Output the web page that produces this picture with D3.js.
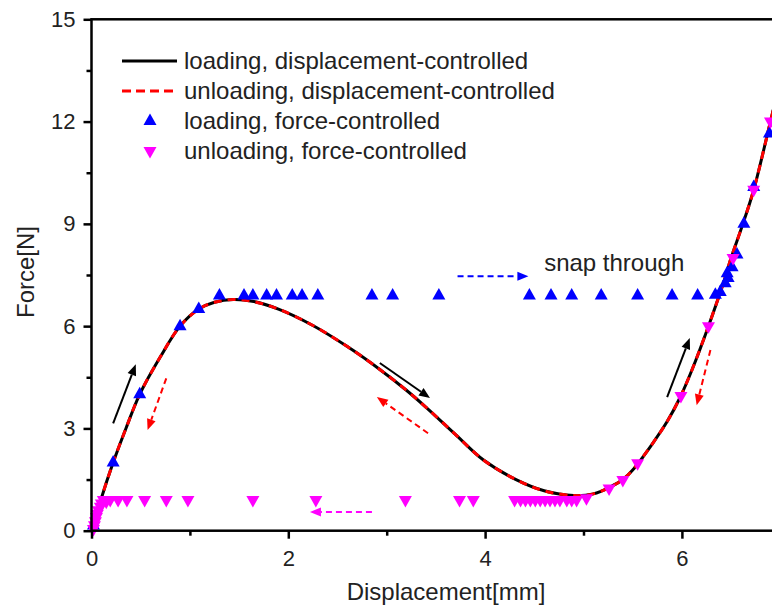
<!DOCTYPE html>
<html>
<head>
<meta charset="utf-8">
<script src="https://cdn.jsdelivr.net/npm/d3@7"></script>
<style>
  html, body { margin: 0; padding: 0; background: #fff; overflow: hidden; }
  svg { display: block; font-family: "Liberation Sans", Arial, sans-serif; }
</style>
</head>
<body>
<svg id="chart" width="772" height="610"></svg>
<script>
// ---- data ----
const curveX = [0, 0.05, 0.1, 0.22, 0.35, 0.49, 0.7, 0.9, 1.09, 1.25, 1.44, 1.65, 1.9, 2.25, 2.6, 2.93, 3.2, 3.4, 3.7, 3.98, 4.32, 4.6, 4.9, 5.1, 5.27, 5.4, 5.5, 5.7, 5.85, 5.98, 6.1, 6.27, 6.42, 6.5, 6.62, 6.73, 6.9, 7.0];
const loadingDispY = [0, 0.45, 0.95, 2.0, 3.0, 4.0, 5.1, 6.0, 6.5, 6.7, 6.78, 6.72, 6.5, 6.02, 5.4, 4.73, 4.12, 3.62, 2.82, 2.08, 1.49, 1.17, 1.03, 1.08, 1.28, 1.5, 1.78, 2.55, 3.2, 3.9, 4.7, 6.0, 7.25, 8.0, 9.0, 10.0, 12.0, 13.2];
const unloadingDispY = [0, 0.45, 0.95, 2.0, 3.0, 4.0, 5.1, 6.0, 6.5, 6.7, 6.78, 6.72, 6.5, 6.02, 5.4, 4.73, 4.12, 3.62, 2.82, 2.08, 1.49, 1.17, 1.03, 1.08, 1.28, 1.5, 1.78, 2.55, 3.2, 3.9, 4.7, 6.0, 7.25, 8.0, 9.0, 10.0, 12.0, 13.2];

const loadForceX = [0.02, 0.22, 0.49, 0.90, 1.09, 1.30, 1.55, 1.64, 1.78, 1.88, 2.04, 2.14, 2.30, 2.85, 3.06, 3.53, 4.45, 4.67, 4.88, 5.18, 5.55, 5.90, 6.16, 6.34, 6.39, 6.44, 6.47, 6.46, 6.51, 6.56, 6.63, 6.73, 6.89];
const loadForceY = [0.15, 2.0, 4.0, 6.0, 6.5, 6.9, 6.9, 6.9, 6.9, 6.9, 6.9, 6.9, 6.9, 6.9, 6.9, 6.9, 6.9, 6.9, 6.9, 6.9, 6.9, 6.9, 6.9, 6.92, 7.0, 7.26, 7.41, 7.55, 7.73, 8.1, 9.0, 10.08, 11.65];

const unloadForceX = [6.9, 6.73, 6.52, 6.27, 5.99, 5.55, 5.40, 5.26, 5.03, 4.93, 4.88, 4.83, 4.76, 4.71, 4.66, 4.61, 4.56, 4.51, 4.46, 4.41, 4.36, 4.30, 3.88, 3.74, 3.19, 2.28, 1.64, 0.98, 0.76, 0.54, 0.36, 0.27, 0.19, 0.15, 0.12, 0.10, 0.09, 0.07, 0.06, 0.05, 0.04, 0.03, 0.02];
const unloadForceY = [12.0, 10.0, 8.0, 6.0, 3.95, 1.98, 1.49, 1.24, 0.95, 0.9, 0.9, 0.9, 0.9, 0.9, 0.9, 0.9, 0.9, 0.9, 0.9, 0.9, 0.9, 0.9, 0.9, 0.9, 0.9, 0.9, 0.9, 0.9, 0.9, 0.9, 0.9, 0.9, 0.9, 0.85, 0.9, 0.8, 0.7, 0.6, 0.5, 0.4, 0.28, 0.16, 0.05];

const xTicks = [0, 2, 4, 6];
const xMinorTicks = [1, 3, 5, 7];
const yTicks = [0, 3, 6, 9, 12, 15];
const yMinorTicks = [1.5, 4.5, 7.5, 10.5, 13.5];

const legendLabels = ["loading, displacement-controlled", "unloading, displacement-controlled", "loading, force-controlled", "unloading, force-controlled"];

// annotation arrows in data units: [x1, y1, x2, y2]
const arrowsBlack = [[0.22, 3.15, 0.45, 4.88], [2.93, 4.92, 3.44, 3.89], [5.85, 3.92, 6.08, 5.65]];
const arrowsRed = [[0.76, 4.47, 0.57, 2.95], [3.42, 2.86, 2.90, 3.92], [6.29, 5.30, 6.15, 3.68]];
const arrowBlue = [3.72, 7.46, 4.44, 7.46];
const arrowMagenta = [2.85, 0.55, 2.22, 0.55];
const snapLabel = { text: "snap through", x: 4.6, y: 7.62 };

// ---- chart ----
const svg = d3.select("#chart");
const x = d3.scaleLinear().domain([0, 7]).range([91.5, 780.3]);
const y = d3.scaleLinear().domain([0, 15]).range([530.7, 19.3]);
const font = '"Liberation Sans", Arial, sans-serif';

// curves
const line = d3.line().x(d => x(d[0])).y(d => y(d[1])).curve(d3.curveCatmullRom.alpha(0.5));
const loadPts = curveX.map((v, i) => [v, loadingDispY[i]]);
const unloadPts = curveX.map((v, i) => [v, unloadingDispY[i]]);

const plot = svg.append("g");
plot.append("path").datum(loadPts).attr("d", line)
  .attr("fill", "none").attr("stroke", "#000").attr("stroke-width", 3);
plot.append("path").datum(unloadPts).attr("d", line)
  .attr("fill", "none").attr("stroke", "#ff0000").attr("stroke-width", 3)
  .attr("stroke-dasharray", "8,6");

// markers
const upTri = "M0,-7.5L6.5,4L-6.5,4Z";
const downTri = "M0,7.5L6.5,-4L-6.5,-4Z";
plot.selectAll(".up").data(loadForceX.map((v, i) => [v, loadForceY[i]])).join("path")
  .attr("class", "up").attr("d", upTri)
  .attr("transform", d => `translate(${x(d[0])},${y(d[1])})`)
  .attr("fill", "#0000ff");
plot.selectAll(".down").data(unloadForceX.map((v, i) => [v, unloadForceY[i]])).join("path")
  .attr("class", "down").attr("d", downTri)
  .attr("transform", d => `translate(${x(d[0])},${y(d[1])})`)
  .attr("fill", "#ff00ff");

// arrows
function arrow(a, color, dashed) {
  const x1 = x(a[0]), y1 = y(a[1]), x2 = x(a[2]), y2 = y(a[3]);
  const ang = Math.atan2(y2 - y1, x2 - x1);
  const L = 11, W = 4.5;
  const bx = x2 - L * Math.cos(ang), by = y2 - L * Math.sin(ang);
  svg.append("line").attr("x1", x1).attr("y1", y1).attr("x2", bx).attr("y2", by)
    .attr("stroke", color).attr("stroke-width", 2)
    .attr("stroke-dasharray", dashed ? "6,4" : null);
  const px = -Math.sin(ang) * W, py = Math.cos(ang) * W;
  svg.append("path")
    .attr("d", `M${x2},${y2}L${bx + px},${by + py}L${bx - px},${by - py}Z`)
    .attr("fill", color);
}
arrowsBlack.forEach(a => arrow(a, "#000", false));
arrowsRed.forEach(a => arrow(a, "#ff0000", true));
arrow(arrowBlue, "#0000ff", true);
arrow(arrowMagenta, "#ff00ff", true);

svg.append("text").attr("x", x(snapLabel.x)).attr("y", y(snapLabel.y))
  .attr("font-size", 24).attr("font-family", font).attr("fill", "#222")
  .text(snapLabel.text);

// axes
const xAxis = d3.axisBottom(x).tickValues(xTicks).tickSize(8).tickPadding(12).tickFormat(d3.format("d"));
const gx = svg.append("g").attr("transform", `translate(0,${y(0)})`).call(xAxis);
const xMinor = d3.axisBottom(x).tickValues(xMinorTicks).tickSize(5).tickFormat("");
const gxm = svg.append("g").attr("transform", `translate(0,${y(0)})`).call(xMinor);

const yAxis = d3.axisLeft(y).tickValues(yTicks).tickSize(8).tickPadding(8).tickFormat(d3.format("d"));
const gy = svg.append("g").attr("transform", `translate(${x(0)},0)`).call(yAxis);
const yMinor = d3.axisLeft(y).tickValues(yMinorTicks).tickSize(5).tickFormat("");
const gym = svg.append("g").attr("transform", `translate(${x(0)},0)`).call(yMinor);

[gx, gxm, gy, gym].forEach(g => {
  g.select(".domain").remove();
  g.selectAll(".tick line").attr("stroke", "#000").attr("stroke-width", 2.5);
  g.selectAll("text").attr("font-size", 22).attr("font-family", font).attr("fill", "#222");
});

// frame
svg.append("rect").attr("x", x(0)).attr("y", y(15)).attr("width", x(7) - x(0)).attr("height", y(0) - y(15))
  .attr("fill", "none").attr("stroke", "#000").attr("stroke-width", 2.5);

// axis titles
svg.append("text").attr("x", 446).attr("y", 600).attr("text-anchor", "middle")
  .attr("font-size", 24).attr("font-family", font).attr("fill", "#222").text("Displacement[mm]");
svg.append("text").attr("transform", "translate(34,272) rotate(-90)").attr("text-anchor", "middle")
  .attr("font-size", 24).attr("font-family", font).attr("fill", "#222").text("Force[N]");

// legend
const lg = svg.append("g");
const rows = [61, 91, 121, 151];
lg.append("line").attr("x1", 122).attr("x2", 177).attr("y1", rows[0]).attr("y2", rows[0])
  .attr("stroke", "#000").attr("stroke-width", 3);
lg.append("line").attr("x1", 122).attr("x2", 177).attr("y1", rows[1]).attr("y2", rows[1])
  .attr("stroke", "#ff0000").attr("stroke-width", 3).attr("stroke-dasharray", "9,5");
lg.append("path").attr("d", upTri).attr("transform", `translate(150,${rows[2]})`).attr("fill", "#0000ff");
lg.append("path").attr("d", downTri).attr("transform", `translate(150,${rows[3]})`).attr("fill", "#ff00ff");
legendLabels.forEach((t, i) => {
  lg.append("text").attr("x", 184).attr("y", rows[i]).attr("dy", "0.35em")
    .attr("font-size", 24).attr("font-family", font).attr("fill", "#222").text(t);
});
</script>
</body>
</html>
